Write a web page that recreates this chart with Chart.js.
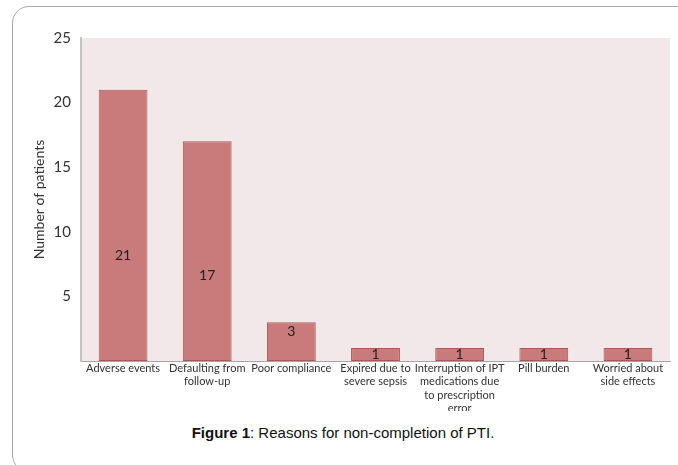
<!DOCTYPE html>
<html>
<head>
<meta charset="utf-8">
<script src="https://cdn.jsdelivr.net/npm/chart.js@4.4.0/dist/chart.umd.min.js"></script>
<style>
  html, body { margin: 0; padding: 0; background: #fff; overflow: hidden; }
  #wrap { position: relative; width: 678px; height: 465px; }
  #frame { position: absolute; left: 12px; top: 6px; width: 720px; height: 466px;
           border: 1px solid #a9a9a9; border-radius: 17px; box-sizing: border-box; }
  #box { position: absolute; left: 0; top: 0; width: 678px; height: 411px; }
  #caption { position: absolute; left: 0; width: 686px; top: 424px; text-align: center;
             font-family: "Liberation Sans", Arial, sans-serif; font-size: 15px; color: #111; }
</style>
</head>
<body>
<div id="wrap">
  <div id="frame"></div>
  <div id="box"><canvas id="myChart"></canvas></div>
  <div id="caption"><b>Figure 1</b>: Reasons for non-completion of PTI.</div>
</div>
<script>
// reasons for not completing PTI
var reasons = [
  'Adverse events',
  ['Defaulting from', 'follow-up'],
  'Poor compliance',
  ['Expired due to', 'severe sepsis'],
  ['Interruption of IPT', 'medications due', 'to prescription', 'error'],
  'Pill burden',
  ['Worried about', 'side effects']
];
var patients = [21, 17, 3, 1, 1, 1, 1];
var yTicks = [0, 5, 10, 15, 20, 25];

var font = 'Lato, "Open Sans", sans-serif';

// pink plot background
var plotBg = {
  id: 'plotBg',
  beforeDraw: function(chart) {
    var a = chart.chartArea, c = chart.ctx;
    c.save();
    c.fillStyle = '#f2e7e9';
    c.fillRect(a.left, a.top, a.right - a.left, a.bottom - a.top);
    c.restore();
  }
};

// count written inside each bar
var barLabels = {
  id: 'barLabels',
  afterDatasetsDraw: function(chart) {
    var c = chart.ctx;
    var meta = chart.getDatasetMeta(0);
    c.save();
    c.fillStyle = '#222';
    c.font = '14px ' + font;
    c.textAlign = 'center';
    c.textBaseline = 'middle';
    meta.data.forEach(function(bar, i) {
      var h = bar.base - bar.y;
      var y = h > 60 ? bar.base - 0.39 * h : bar.y + Math.min(h / 2, 9);
      c.fillText(patients[i], bar.x, y);
    });
    c.restore();
  }
};

var ctx = document.getElementById('myChart').getContext('2d');
var myChart = new Chart(ctx, {
  type: 'bar',
  data: {
    labels: reasons,
    datasets: [{
      data: patients,
      backgroundColor: '#c97b7b',
      borderColor: '#ab5757',
      borderWidth: 1,
      borderSkipped: false,
      barPercentage: 0.58,
      categoryPercentage: 1
    }]
  },
  options: {
    responsive: true,
    maintainAspectRatio: false,
    animation: false,
    layout: { padding: { top: 38, right: 8, left: 31, bottom: 0 } },
    plugins: {
      legend: { display: false },
      tooltip: { enabled: false }
    },
    scales: {
      x: {
        grid: { display: false, drawTicks: false },
        border: { color: '#a6a6a6', width: 1 },
        ticks: {
          color: '#333',
          font: { family: font, size: 11 },
          maxRotation: 0,
          autoSkip: false,
          padding: 1
        },
        afterFit: function(s) { s.height = 50; }
      },
      y: {
        min: 0,
        max: 25,
        afterBuildTicks: function(s) {
          s.ticks = yTicks.map(function(v) { return { value: v }; });
        },
        grid: { display: false, drawTicks: false },
        border: { color: '#c4c4c4', width: 2 },
        ticks: {
          color: '#333',
          font: { family: font, size: 15 },
          padding: 10,
          callback: function(v) { return v === 0 ? '' : v; }
        },
        title: {
          display: true,
          text: 'Number of patients',
          color: '#333',
          font: { family: font, size: 14 },
          padding: { top: 0, bottom: 0 }
        },
        afterFit: function(s) { s.width = 50; }
      }
    }
  },
  plugins: [plotBg, barLabels]
});
</script>
</body>
</html>
